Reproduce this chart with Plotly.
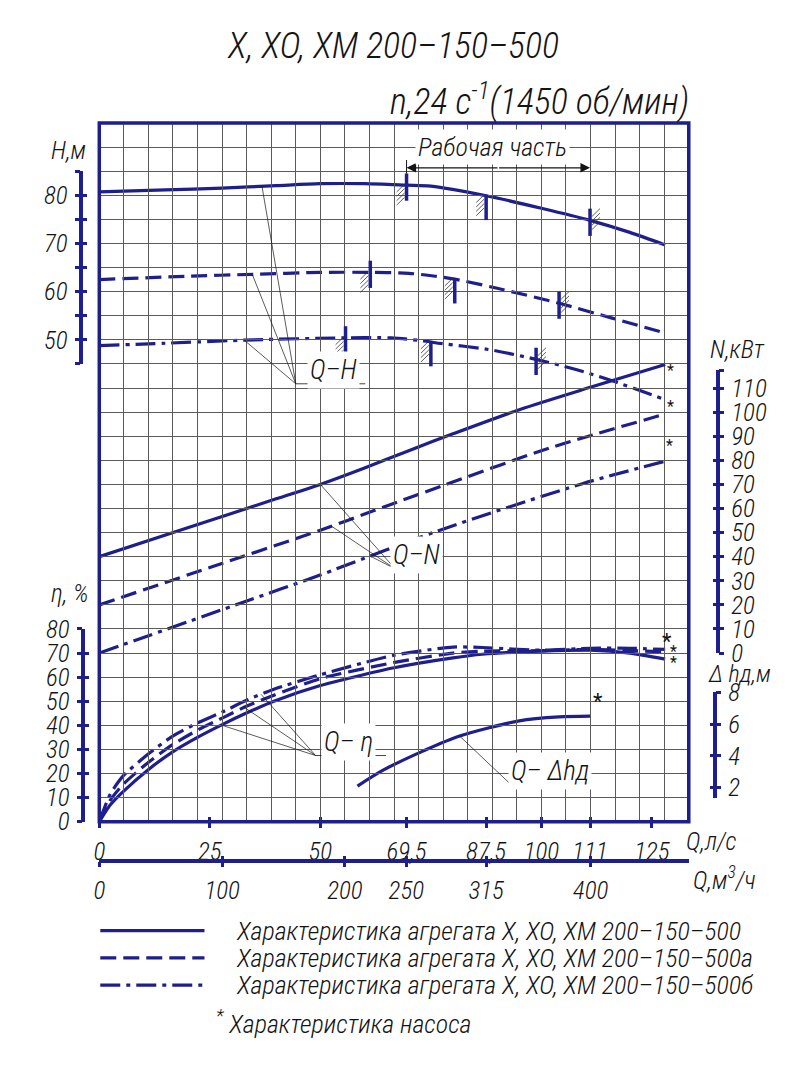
import numpy as np
import plotly.graph_objects as go

FIG_W, FIG_H = 789, 1080
PL, PR, PT, PB = 94, 688, 112, 830          # plot area (px)

NAVY = '#1e1e8c'
INK = '#141414'
GRID = '#5a5a5a'
FONT = 'Roboto Condensed, Sofia Sans Condensed, PT Sans Narrow, DejaVu Sans Condensed, sans-serif'
FW = 300

# ---------------- data ----------------
Q_RANGE = [0, 480 / 3.6]        # l/s  (480 m3/h)
QM3_RANGE = [0, 480]
H_RANGE = [-50, 95]
N_RANGE = [-70, 220]
ETA_RANGE = [0, 290]
DH_RANGE = [-0.143, 43.82]

q_ticks = [0, 25, 50, 69.5, 87.5, 100, 111, 125]
q_tick_text = ['0', '25', '50', '69,5', '87,5', '100', '111', '125']
qm3_ticks = [0, 100, 200, 250, 315, 400]
qm3_tick_text = ['0', '100', '200', '250', '315', '400']
h_ticks = [45, 50, 55, 60, 65, 70, 75, 80, 85]
h_tick_text = ['', '50', '', '60', '', '70', '', '80', '']
n_ticks = [0, 10, 20, 30, 40, 50, 60, 70, 80, 90, 100, 110, 117.4]
n_tick_text = ['0', '10', '20', '30', '40', '50', '60', '70', '80', '90', '100', '110', '']
eta_ticks = [0, 10, 20, 30, 40, 50, 60, 70, 80]
eta_tick_text = ['0', '10', '20', '30', '40', '50', '60', '70', '80']
dh_ticks = [2, 4, 6, 8]
dh_tick_text = ['2', '4', '6', '8']

# Q-H
q_h_a = [0, 15, 27.8, 40, 50, 60, 69.5, 75, 87.5, 100, 111, 120, 128]
h_a = [80.7, 81.1, 81.5, 82.0, 82.4, 82.4, 82.1, 81.9, 79.9, 77.3, 74.8, 72.3, 69.7]
q_h_b = [0, 20, 35, 50, 61.3, 70, 76, 80.4, 90, 104, 116, 128]
h_b = [62.5, 63.2, 63.6, 64.0, 64.0, 63.8, 63.2, 62.6, 60.7, 57.6, 54.5, 51.4]
q_h_c = [0, 15, 35, 55.7, 66, 74, 76, 88, 99, 108, 116, 128]
h_c = [48.8, 49.3, 50.0, 50.4, 50.4, 49.7, 49.4, 48.0, 45.9, 43.8, 41.5, 37.6]

# Q-N
q_n_a = [0, 20, 40, 50, 60, 70, 80, 95, 112, 128]
n_a = [40, 52, 64, 70, 76.8, 84, 91, 101, 110.8, 119.8]
q_n_b = [0, 25, 50, 64.2, 77.7, 101.7, 128]
n_b = [20, 35.5, 51, 60.5, 69.5, 85, 99.2]
q_n_c = [0, 33.2, 49.8, 76.1, 109.1, 127.7]
n_c = [0, 21.5, 32.3, 50.4, 70.2, 79.5]

# Q-eta
q_eta = [0, 2.5, 5.4, 11, 16.6, 22.2, 27.8, 33.4, 39.5, 50, 66.4, 80, 86.6, 100, 111, 120, 128]
eta_a = [0, 7, 12.5, 21.5, 29, 35, 40.3, 45.2, 50, 56.5, 63.8, 68, 69.5, 70.8, 71.2, 70, 67.5]
eta_b = [0, 9, 15.5, 24.5, 32, 38, 43, 48, 52.5, 59.4, 66, 70, 70.8, 71, 71.5, 71, 70.5]
eta_c = [0, 11.5, 19, 28, 35.5, 41, 45.5, 50.5, 55, 61, 69, 72.5, 72.3, 71.2, 72, 72, 71.5]

# Q-dh
q_dh = [58.4, 64.2, 73.2, 81.5, 95, 104, 111]
dh = [2.1, 3.1, 4.3, 5.25, 6.2, 6.45, 6.5]

# operating-range marks on Q-H
marks_a = [69.5, 87.5, 111]
marks_b = [61.3, 80.4, 104]
marks_c = [55.7, 75.0, 98.8]
mark_kinds = ['cross', 'tee', 'cross']
mark_sides = ['L', 'L', 'R']
work_range = [69.5, 111]
work_h = 85.7

legend_texts = [
    'Характеристика агрегата Х, ХО, ХМ 200–150–500',
    'Характеристика агрегата Х, ХО, ХМ 200–150–500а',
    'Характеристика агрегата Х, ХО, ХМ 200–150–500б',
]

DASHES = ['solid', '16px,7px', '20px,6px,4px,6px']

# ---------------- helpers ----------------
def fx(px):
    return px / FIG_W


def fy(py):
    return 1 - py / FIG_H


def qx(q):
    return PL + (q - Q_RANGE[0]) / (Q_RANGE[1] - Q_RANGE[0]) * (PR - PL)


def vy(v, rng):
    return PB - (v - rng[0]) / (rng[1] - rng[0]) * (PB - PT)


def tfont(size=24):
    return dict(family=FONT, size=size, color=INK, style='italic', weight=FW)


TICKFONT = tfont(25)

fig = go.Figure()

series = [
    (q_h_a, h_a, q_n_a, n_a, eta_a),
    (q_h_b, h_b, q_n_b, n_b, eta_b),
    (q_h_c, h_c, q_n_c, n_c, eta_c),
]
for (qh, hv, qn, nv, ev), dash in zip(series, DASHES):
    ln = dict(color=NAVY, width=3.2, dash=dash, shape='spline', smoothing=0.8)
    ln_eta = dict(ln, smoothing=0.6)
    fig.add_trace(go.Scatter(x=qh, y=hv, mode='lines', line=ln, yaxis='y', showlegend=False, hoverinfo='skip'))
    fig.add_trace(go.Scatter(x=qn, y=nv, mode='lines', line=ln, yaxis='y2', showlegend=False, hoverinfo='skip'))
    fig.add_trace(go.Scatter(x=q_eta, y=ev, mode='lines', line=ln_eta, yaxis='y3', showlegend=False,
                             hoverinfo='skip'))

fig.add_trace(go.Scatter(x=q_dh, y=dh, mode='lines', line=dict(color=NAVY, width=3.2, shape='spline', smoothing=0.8),
                         yaxis='y4', showlegend=False, hoverinfo='skip'))

# dummy traces so every display axis is drawn
for ya in ['y5', 'y6', 'y7', 'y8', 'y9', 'y10', 'y11', 'y12']:
    fig.add_trace(go.Scatter(x=[None], y=[None], xaxis='x', yaxis=ya, showlegend=False, hoverinfo='skip'))
for xa in ['x3', 'x4', 'x5', 'x6']:
    fig.add_trace(go.Scatter(x=[None], y=[None], xaxis=xa, yaxis='y', showlegend=False, hoverinfo='skip'))

shapes = []


def pline(x0, y0, x1, y1, color=INK, width=0.8, dash='solid'):
    shapes.append(dict(type='line', xref='paper', yref='paper', x0=fx(x0), y0=fy(y0), x1=fx(x1), y1=fy(y1),
                       line=dict(color=color, width=width, dash=dash)))


# frame
shapes.append(dict(type='rect', xref='paper', yref='paper', x0=fx(PL), y0=fy(PB), x1=fx(PR), y1=fy(PT),
                   line=dict(color=NAVY, width=3.5)))

# marks on Q-H curves
for qs, hs, mq in [(q_h_a, h_a, marks_a), (q_h_b, h_b, marks_b), (q_h_c, h_c, marks_c)]:
    for q, kind, side in zip(mq, mark_kinds, mark_sides):
        h = float(np.interp(q, qs, hs))
        x = qx(q)
        y = vy(h, H_RANGE)
        if kind == 'cross':
            y0, y1 = y - 12, y + 16
        else:
            y0, y1 = y - 1, y + 25
        pline(x, y0, x, y1, color=NAVY, width=3.5)
        for k in range(4):
            if side == 'L':
                yy = y - 1 + 4.5 * k
                pline(x - 10, yy + 8, x - 2, yy, color='#333', width=0.8)
            else:
                yy = y - 12 + 4.5 * k
                pline(x + 2, yy + 8, x + 10, yy, color='#333', width=0.8)

# "Рабочая часть" dimension line
y_dim = vy(work_h, H_RANGE)
pline(qx(work_range[0]), y_dim - 8, qx(work_range[0]), y_dim + 6, color=INK, width=1)
x_mid = (qx(work_range[0]) + qx(work_range[1])) / 2
annotations = []
for qe in work_range:
    annotations.append(dict(x=fx(qx(qe)), y=fy(y_dim), ax=x_mid - qx(qe), ay=0, xref='paper', yref='paper',
                            axref='pixel', ayref='pixel', showarrow=True, arrowhead=2, arrowsize=1.6, arrowwidth=1.2,
                            arrowcolor=INK, text=''))

# leader lines
def leaders(conv, targets, under_to):
    cx, cy = conv
    for (q, v, rng) in targets:
        pline(cx, cy, qx(q), vy(v, rng), width=0.7)
    pline(cx, cy, under_to, cy, width=0.8)


leaders((292, 380), [(36.8, float(np.interp(36.8, q_h_a, h_a)), H_RANGE),
                     (34.6, float(np.interp(34.6, q_h_b, h_b)), H_RANGE),
                     (32.8, float(np.interp(32.8, q_h_c, h_c)), H_RANGE)], 362)
leaders((392, 570), [(50, float(np.interp(50, q_n_a, n_a)), N_RANGE),
                     (52.5, float(np.interp(52.5, q_n_b, n_b)), N_RANGE),
                     (61.3, float(np.interp(61.3, q_n_c, n_c)), N_RANGE)], 437)
leaders((312, 762), [(27.6, float(np.interp(27.6, q_eta, eta_a)), ETA_RANGE),
                     (32.8, float(np.interp(32.8, q_eta, eta_b)), ETA_RANGE),
                     (36.6, float(np.interp(36.6, q_eta, eta_c)), ETA_RANGE)], 383)
leaders((510, 793), [(81.5, float(np.interp(81.5, q_dh, dh)), DH_RANGE)], 582)

# legend samples
for i, (dash, txt) in enumerate(zip(DASHES, legend_texts)):
    yy = 942 + 28 * i
    pline(95, yy, 200, yy, color=NAVY, width=3.2, dash=dash)
    annotations.append(dict(x=fx(230), y=fy(yy), xref='paper', yref='paper', xanchor='left', yanchor='middle',
                            text=txt, showarrow=False, font=tfont(26)))
annotations.append(dict(x=fx(210), y=fy(1036), xref='paper', yref='paper', xanchor='left', yanchor='middle',
                        text='<sup>*</sup> Характеристика насоса', showarrow=False, font=tfont(26)))


def label(px, py, text, size=24, xanchor='center', bg=None):
    d = dict(x=fx(px), y=fy(py), xref='paper', yref='paper', xanchor=xanchor, yanchor='middle', text=text,
             showarrow=False, font=tfont(size))
    if bg:
        d.update(bgcolor=bg, borderpad=2)
    annotations.append(d)


label(390, 33, 'Х, ХО, ХМ 200–150–500', 36)
label(385, 88, 'n,24 с<sup>-1</sup>(1450 об/мин)', 36, xanchor='left')
label(43, 140, 'H,м', 25, xanchor='left')
label(707, 345, 'N,кВт', 25, xanchor='left')
label(43, 595, 'η, %', 25, xanchor='left')
label(705, 678, 'Δ hд,м', 24, xanchor='left')
label(683, 850, 'Q,л/с', 25, xanchor='left')
label(690, 888, 'Q,м<sup>3</sup>/ч', 25, xanchor='left')
label(490, 137, 'Рабочая часть', 26, bg='white')
label(330, 366, 'Q–H', 27, bg='white')
label(414, 556, 'Q–N', 27, bg='white')
label(345, 748, 'Q– η', 27, bg='white')
label(548, 778, 'Q– Δhд', 27, bg='white')

# asterisks (pump characteristic)
def star(q, v, rng, dx, dy, size=16):
    annotations.append(dict(x=fx(qx(q) + dx), y=fy(vy(v, rng) + dy), xref='paper', yref='paper', text='*',
                            showarrow=False, font=dict(family=FONT, size=size, color=INK)))


star(q_n_a[-1], n_a[-1], N_RANGE, 11, -6)
star(q_n_b[-1], n_b[-1], N_RANGE, 11, -8)
star(q_n_c[-1], n_c[-1], N_RANGE, 11, -16)
star(q_eta[-1], eta_c[-1], ETA_RANGE, 9, -8, 22)
star(q_eta[-1], eta_b[-1], ETA_RANGE, 14, 0)
star(q_eta[-1], eta_a[-1], ETA_RANGE, 14, 4)
star(q_dh[-1], dh[-1], DH_RANGE, 15, 0, 22)


def disp_y(top_px, bot_px, rng, pos_px, side, tickvals, ticktext, ticks):
    outside = ticks == 'outside'
    return dict(domain=[fy(bot_px), fy(top_px)], range=rng, anchor='free', position=fx(pos_px), side=side,
                showline=outside, linecolor=NAVY, linewidth=3.5, ticks=ticks, ticklen=5, tickwidth=3,
                tickcolor=NAVY, tickmode='array', tickvals=tickvals, ticktext=ticktext,
                showticklabels=outside, tickfont=TICKFONT, showgrid=False, zeroline=False, ticklabelstandoff=2)


h_top, h_bot = vy(85, H_RANGE), vy(45, H_RANGE)
n_top, n_bot = vy(117.4, N_RANGE), vy(0, N_RANGE)
e_top, e_bot = vy(80, ETA_RANGE), vy(0, ETA_RANGE)
d_top, d_bot = vy(8, DH_RANGE), vy(1.33, DH_RANGE)

layout = dict(
    width=FIG_W, height=FIG_H, margin=dict(l=0, r=0, t=0, b=0),
    paper_bgcolor='white', plot_bgcolor='rgba(0,0,0,0)', showlegend=False,
    xaxis=dict(domain=[fx(PL), fx(PR)], range=Q_RANGE, anchor='y', tickmode='linear', tick0=0, dtick=100 / 18,
               showgrid=True, gridcolor=GRID, gridwidth=1, showticklabels=False, ticks='', zeroline=False,
               showline=False),
    yaxis=dict(domain=[fy(PB), fy(PT)], range=H_RANGE, anchor='x', tickmode='linear', tick0=-50, dtick=5,
               showgrid=True, gridcolor=GRID, gridwidth=1, showticklabels=False, ticks='', zeroline=False,
               showline=False),
    yaxis2=dict(overlaying='y', range=N_RANGE, visible=False, anchor='x'),
    yaxis3=dict(overlaying='y', range=ETA_RANGE, visible=False, anchor='x'),
    yaxis4=dict(overlaying='y', range=DH_RANGE, visible=False, anchor='x'),
    yaxis5=disp_y(h_top, h_bot, [45, 85], 76, 'left', h_ticks, h_tick_text, 'outside'),
    yaxis6=disp_y(h_top, h_bot, [45, 85], 76, 'left', h_ticks, h_tick_text, 'inside'),
    yaxis7=disp_y(n_top, n_bot, [0, 117.4], 717, 'right', n_ticks, n_tick_text, 'outside'),
    yaxis8=disp_y(n_top, n_bot, [0, 117.4], 717, 'right', n_ticks, n_tick_text, 'inside'),
    yaxis9=disp_y(e_top, e_bot, [0, 80], 78, 'left', eta_ticks, eta_tick_text, 'outside'),
    yaxis10=disp_y(e_top, e_bot, [0, 80], 78, 'left', eta_ticks, eta_tick_text, 'inside'),
    yaxis11=disp_y(d_top, d_bot, [1.33, 8], 714, 'right', dh_ticks, dh_tick_text, 'outside'),
    yaxis12=disp_y(d_top, d_bot, [1.33, 8], 714, 'right', dh_ticks, dh_tick_text, 'inside'),
    xaxis3=dict(overlaying='x', range=Q_RANGE, anchor='y', side='bottom', tickmode='array', tickvals=q_ticks,
                ticktext=q_tick_text, ticks='outside', ticklen=5, tickwidth=3, tickcolor=NAVY, tickfont=TICKFONT,
                showgrid=False, zeroline=False, showline=False, ticklabelstandoff=2),
    xaxis4=dict(overlaying='x', range=Q_RANGE, anchor='y', side='bottom', tickmode='array', tickvals=q_ticks,
                ticks='inside', ticklen=5, tickwidth=3, tickcolor=NAVY, showticklabels=False,
                showgrid=False, zeroline=False, showline=False),
    xaxis5=dict(domain=[fx(PL), fx(PR)], range=QM3_RANGE, anchor='free', position=fy(870), side='bottom',
                tickmode='array', tickvals=qm3_ticks, ticktext=qm3_tick_text, ticks='outside', ticklen=5,
                tickwidth=3, tickcolor=NAVY, tickfont=TICKFONT, showgrid=False, zeroline=False, showline=True,
                linecolor=NAVY, linewidth=3.5, ticklabelstandoff=2),
    xaxis6=dict(domain=[fx(PL), fx(PR)], range=QM3_RANGE, anchor='free', position=fy(870), side='bottom',
                tickmode='array', tickvals=qm3_ticks, ticks='inside', ticklen=5, tickwidth=3, tickcolor=NAVY,
                showticklabels=False, showgrid=False, zeroline=False, showline=False),
    shapes=shapes,
    annotations=annotations,
)
fig.update_layout(**layout)
fig.write_html('out.html')
